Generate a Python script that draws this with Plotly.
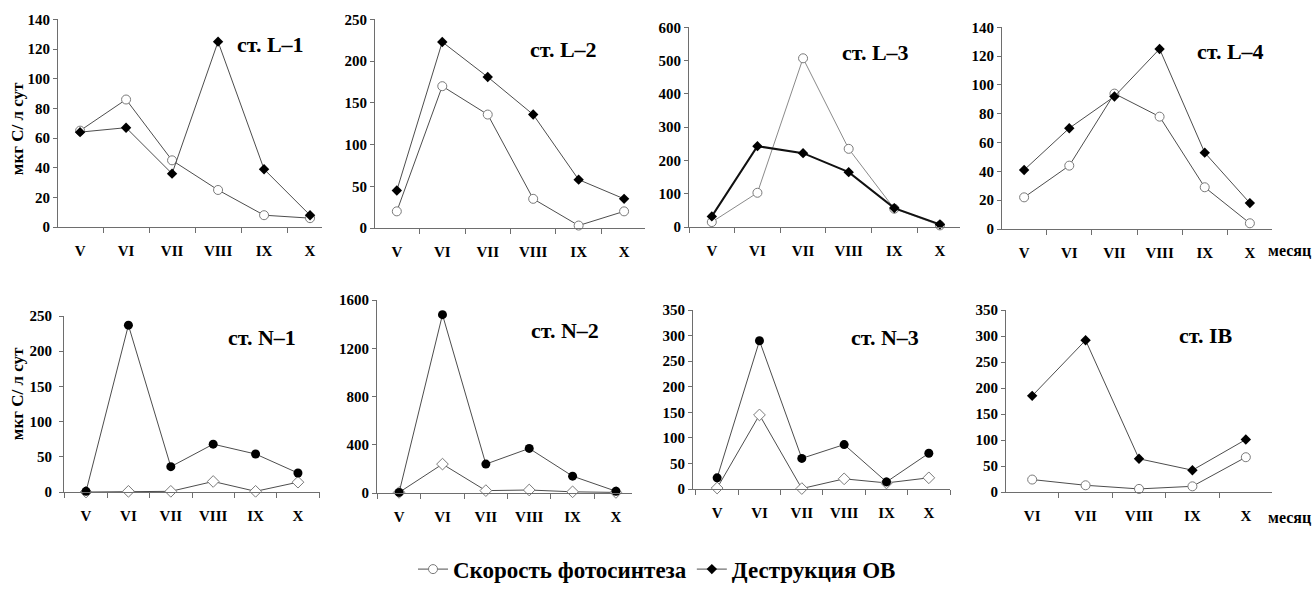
import plotly.graph_objects as go

# ---------------- data ----------------
months6 = ["V", "VI", "VII", "VIII", "IX", "X"]
months5 = ["VI", "VII", "VIII", "IX", "X"]

photo_L1 = [65, 86, 45, 25, 8, 6]
destr_L1 = [64, 67, 36, 125, 39, 8]

photo_L2 = [20, 170, 136, 35, 3, 20]
destr_L2 = [45, 223, 181, 136, 58, 35]

photo_L3 = [15, 103, 507, 235, 55, 5]
destr_L3 = [32, 243, 222, 165, 57, 8]

photo_L4 = [22, 44, 94, 78, 29, 4]
destr_L4 = [41, 70, 92, 125, 53, 18]

photo_N1 = [0, 1, 1, 15, 1, 14]
destr_N1 = [1, 237, 36, 68, 54, 27]

photo_N2 = [5, 240, 20, 25, 10, 5]
destr_N2 = [5, 1480, 240, 370, 140, 15]

photo_N3 = [2, 145, 1, 20, 12, 22]
destr_N3 = [22, 290, 60, 87, 14, 70]

photo_IB = [24, 13, 6, 11, 67]
destr_IB = [185, 292, 64, 42, 101]

station_names = ["ст. L–1", "ст. L–2", "ст. L–3", "ст. L–4",
                 "ст. N–1", "ст. N–2", "ст. N–3", "ст. IB"]
series_names = ["Скорость фотосинтеза", "Деструкция ОВ"]
y_title = "мкг С/ л сут"
x_unit = "месяц"

# ---------------- layout helpers ----------------
W, H = 1314, 591
FONT = "Times New Roman"


def px_x(p):
    return p / W


def px_y(p):
    q = 20 + (p - 20) * 1.018
    return 1 - q / H


panels = [
    dict(cats=months6, photo=photo_L1, destr=destr_L1, x0=58, x1=322, xr=[-0.48, 5.26],
         ytop=20, ybot=230, yr=[0, 140], dtick=20, tx=270, ty=45, kind="L", ystand=0),
    dict(cats=months6, photo=photo_L2, destr=destr_L2, x0=375, x1=645, xr=[-0.48, 5.46],
         ytop=20, ybot=231, yr=[0, 250], dtick=50, tx=563, ty=50, kind="L", ystand=0),
    dict(cats=months6, photo=photo_L3, destr=destr_L3, x0=689, x1=960, xr=[-0.5, 5.44],
         ytop=28, ybot=230, yr=[0, 600], dtick=100, tx=875, ty=53, kind="L3", ystand=0),
    dict(cats=months6, photo=photo_L4, destr=destr_L4, x0=1002, x1=1272, xr=[-0.49, 5.49],
         ytop=28, ybot=232, yr=[0, 140], dtick=20, tx=1230, ty=52, kind="L", ystand=0),
    dict(cats=months6, photo=photo_N1, destr=destr_N1, x0=64, x1=320, xr=[-0.52, 5.52],
         ytop=320, ybot=498, yr=[0, 250], dtick=50, tx=262, ty=342, kind="N", ystand=4),
    dict(cats=months6, photo=photo_N2, destr=destr_N2, x0=377, x1=632, xr=[-0.51, 5.37],
         ytop=304, ybot=499, yr=[0, 1600], dtick=400, tx=565, ty=335, kind="N", ystand=0),
    dict(cats=months6, photo=photo_N3, destr=destr_N3, x0=693, x1=950, xr=[-0.57, 5.5],
         ytop=314, ybot=495, yr=[0, 350], dtick=50, tx=885, ty=342, kind="N", ystand=0),
    dict(cats=months5, photo=photo_IB, destr=destr_IB, x0=1006, x1=1272, xr=[-0.49, 4.49],
         ytop=314, ybot=498, yr=[0, 350], dtick=50, tx=1205, ty=340, kind="L", ystand=0),
]

fig = go.Figure()
annotations = []
LINE_C = "#4d4d4d"
AXIS_C = "#6e6e6e"

for i, p in enumerate(panels):
    n = i + 1
    xa = "x" if n == 1 else f"x{n}"
    ya = "y" if n == 1 else f"y{n}"

    if p["kind"] == "N":
        ph_sym, de_sym = "diamond", "circle"
        ph_size, de_size = 9, 9
    else:
        ph_sym, de_sym = "circle", "diamond"
        ph_size, de_size = 9, 8
    ph_line_c = "#8a8a8a" if p["kind"] == "L3" else LINE_C
    de_line_w = 2 if p["kind"] == "L3" else 1
    de_line_c = "#111111" if p["kind"] == "L3" else LINE_C

    fig.add_trace(go.Scatter(
        x=p["cats"], y=p["photo"], xaxis=xa, yaxis=ya, mode="lines+markers",
        name=series_names[0], legendgroup="photo", showlegend=(n == 1),
        line=dict(color=ph_line_c, width=1),
        marker=dict(symbol=ph_sym, size=ph_size, color="white",
                    line=dict(color="#7a7a7a", width=1)),
        cliponaxis=False))
    fig.add_trace(go.Scatter(
        x=p["cats"], y=p["destr"], xaxis=xa, yaxis=ya, mode="lines+markers",
        name=series_names[1], legendgroup="destr", showlegend=(n == 1),
        line=dict(color=de_line_c, width=de_line_w),
        marker=dict(symbol=de_sym, size=de_size, color="black",
                    line=dict(color="black", width=0)),
        cliponaxis=False))

    xkey = "xaxis" if n == 1 else f"xaxis{n}"
    ykey = "yaxis" if n == 1 else f"yaxis{n}"
    fig.layout[xkey] = dict(
        domain=[px_x(p["x0"]), px_x(p["x1"])], anchor=ya, type="category",
        categoryorder="array", categoryarray=p["cats"], range=p["xr"],
        showline=True, linecolor=AXIS_C, linewidth=1, showgrid=False, zeroline=False,
        ticks="outside", ticklen=5, tickcolor=AXIS_C, tickson="boundaries",
        ticklabelstandoff=10,
        tickfont=dict(family=FONT, size=15, color="black", weight="bold"),
        fixedrange=True)
    yax = dict(
        domain=[px_y(p["ybot"]), px_y(p["ytop"])], anchor=xa, range=p["yr"],
        tick0=0, dtick=p["dtick"], showline=True, linecolor=AXIS_C, linewidth=1,
        showgrid=False, zeroline=False, ticks="outside", ticklen=4, tickcolor=AXIS_C,
        ticklabelstandoff=p["ystand"],
        tickfont=dict(family=FONT, size=15, color="black", weight="bold"),
        automargin=False, fixedrange=True)
    fig.layout[ykey] = yax

    annotations.append(dict(
        text=station_names[i], x=px_x(p["tx"]), y=px_y(p["ty"]), xref="paper", yref="paper",
        showarrow=False, xanchor="center", yanchor="middle",
        font=dict(family=FONT, size=22, color="black", weight="bold")))

# y-axis titles (left column)
for yc in (131, 399):
    annotations.append(dict(
        text=y_title, x=px_x(17), y=px_y(yc), xref="paper", yref="paper",
        showarrow=False, textangle=-90, xanchor="center", yanchor="middle",
        font=dict(family=FONT, size=17, color="black", weight="bold")))

# "месяц" labels
for yc in (254, 524):
    annotations.append(dict(
        text=x_unit, x=px_x(1313), y=px_y(yc), xref="paper", yref="paper",
        showarrow=False, xanchor="right", yanchor="middle",
        font=dict(family=FONT, size=16, color="black", weight="bold")))

fig.update_layout(
    width=W, height=H, margin=dict(l=0, r=0, t=0, b=0),
    paper_bgcolor="white", plot_bgcolor="white",
    annotations=annotations,
    showlegend=True,
    legend=dict(orientation="h", x=0.5, xanchor="center", y=px_y(576), yanchor="middle",
                font=dict(family=FONT, size=23, color="black", weight="bold"),
                itemwidth=30, bgcolor="rgba(0,0,0,0)", traceorder="normal"),
)

fig.write_html(
    "out.html",
    config={"displayModeBar": False},
    post_script="document.body.style.margin='0';document.body.style.overflow='hidden';",
)
